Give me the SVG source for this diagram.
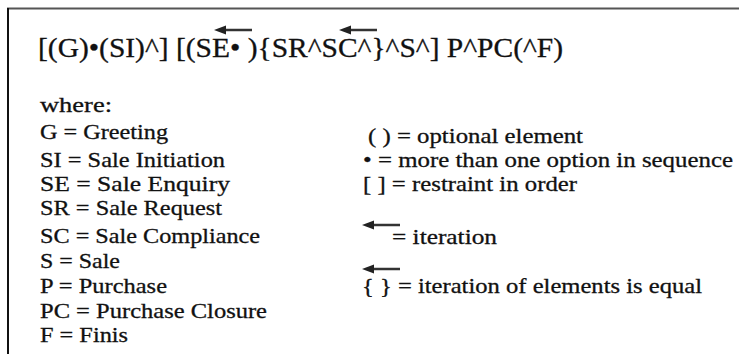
<svg xmlns="http://www.w3.org/2000/svg" xmlns:xlink="http://www.w3.org/1999/xlink" width="739" height="354" viewBox="0 0 739 354">
  <style>
    .formula { font-family: "Liberation Serif", serif; font-size: 27px; fill: #111; stroke: #111; stroke-width: 0.3; }
    .legend { font-family: "Liberation Serif", serif; font-size: 21.5px; fill: #111; stroke: #111; stroke-width: 0.3; }
    .frame-top { stroke: #555; stroke-width: 2; }
    .frame-left { stroke: #111; stroke-width: 2; }
  </style>
  <defs>
    <!-- leftward iteration arrow, tip at (0,0) -->
    <g id="iterArrow">
      <line x1="8" y1="0" x2="38" y2="0" stroke="#333" stroke-width="2.5"/>
      <polygon points="0,0 12,-4.5 12,4.5" fill="#222"/>
    </g>
  </defs>

  <rect x="0" y="0" width="739" height="354" fill="#fff"/>

  <!-- frame -->
  <g id="frame">
    <line class="frame-top" x1="7" y1="8.5" x2="739" y2="8.5"/>
    <line class="frame-left" x1="8" y1="8" x2="8" y2="354"/>
  </g>

  <!-- grammar formula -->
  <g id="formula">
    <text class="formula" x="38" y="57" textLength="525" lengthAdjust="spacingAndGlyphs">[(G)•(SI)^] [(SE• ){SR^SC^}^S^] P^PC(^F)</text>
    <use xlink:href="#iterArrow" x="214" y="30"/>
    <use xlink:href="#iterArrow" x="339" y="30"/>
  </g>

  <!-- abbreviations -->
  <g id="abbreviations">
    <text class="legend" x="40" y="112" textLength="72" lengthAdjust="spacingAndGlyphs">where:</text>
    <text class="legend" x="40" y="139" textLength="128" lengthAdjust="spacingAndGlyphs">G = Greeting</text>
    <text class="legend" x="40" y="167" textLength="185" lengthAdjust="spacingAndGlyphs">SI = Sale Initiation</text>
    <text class="legend" x="40" y="191" textLength="190" lengthAdjust="spacingAndGlyphs">SE = Sale Enquiry</text>
    <text class="legend" x="40" y="215" textLength="182" lengthAdjust="spacingAndGlyphs">SR = Sale Request</text>
    <text class="legend" x="40" y="243" textLength="220" lengthAdjust="spacingAndGlyphs">SC = Sale Compliance</text>
    <text class="legend" x="40" y="268" textLength="80" lengthAdjust="spacingAndGlyphs">S = Sale</text>
    <text class="legend" x="40" y="293" textLength="127" lengthAdjust="spacingAndGlyphs">P = Purchase</text>
    <text class="legend" x="40" y="318" textLength="227" lengthAdjust="spacingAndGlyphs">PC = Purchase Closure</text>
    <text class="legend" x="40" y="342" textLength="88" lengthAdjust="spacingAndGlyphs">F = Finis</text>
  </g>

  <!-- notation key -->
  <g id="notation">
    <text class="legend" x="368" y="143" textLength="215" lengthAdjust="spacingAndGlyphs">( ) = optional element</text>
    <text class="legend" x="363" y="167" textLength="370" lengthAdjust="spacingAndGlyphs">• = more than one option in sequence</text>
    <text class="legend" x="363" y="191" textLength="214" lengthAdjust="spacingAndGlyphs">[ ] = restraint in order</text>
    <use xlink:href="#iterArrow" x="362" y="225"/>
    <text class="legend" x="392" y="244" textLength="105" lengthAdjust="spacingAndGlyphs">= iteration</text>
    <use xlink:href="#iterArrow" x="362" y="269"/>
    <text class="legend" x="362" y="293" textLength="340" lengthAdjust="spacingAndGlyphs">{ } = iteration of elements is equal</text>
  </g>
</svg>
